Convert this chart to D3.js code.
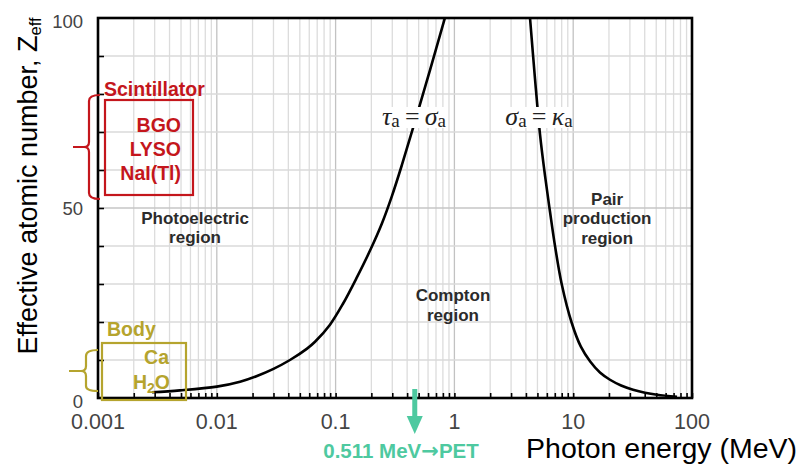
<!DOCTYPE html>
<html>
<head>
<meta charset="utf-8">
<script src="https://cdn.jsdelivr.net/npm/d3@7"></script>
<style>
  html, body { margin: 0; padding: 0; background: #fff; }
  svg { display: block; font-family: "Liberation Sans", Arial, Helvetica, sans-serif; }
</style>
</head>
<body>
<svg id="chart" width="799" height="465"></svg>
<script>
// ---------------- data ----------------
const xTickValues = [0.001, 0.01, 0.1, 1, 10, 100];
const xTickLabels = ["0.001", "0.01", "0.1", "1", "10", "100"];
const yTickValues = [0, 50, 100];
const yTickLabels = ["0", "50", "100"];
const yMinorTicks = [10, 20, 30, 40, 50, 60, 70, 80, 90];

// tau_a = sigma_a boundary (photoelectric / Compton)
const tauSigmaEnergy = [0.00285, 0.0049, 0.01, 0.0157, 0.0218, 0.0297, 0.0413, 0.0575, 0.0671, 0.0897, 0.1154, 0.1514, 0.1949, 0.2458, 0.2983, 0.3621, 0.4661, 0.6232, 0.8334];
const tauSigmaZ      = [1.5, 2.0, 3.0, 4.3, 5.8, 7.6, 10.0, 13.0, 14.8, 19.3, 24.8, 31.8, 38.8, 46.0, 53.2, 61.4, 72.8, 86.3, 100.1];

// sigma_a = kappa_a boundary (Compton / pair production)
const sigmaKappaEnergy = [4.26, 4.33, 4.77, 5.25, 5.79, 6.38, 7.03, 8.0, 9.71, 11.6, 13.9, 16.8, 20.4, 25.3, 31.9, 40.2, 50.8, 74.8];
const sigmaKappaZ      = [102.5, 100, 84, 69.5, 58.5, 49, 40, 30, 19.8, 13.5, 9.6, 6.7, 4.8, 3.3, 2.2, 1.4, 0.85, 0.3];

const regionLabels = [
  { lines: ["Photoelectric", "region"], e: 0.00656, z: 45.8 },
  { lines: ["Compton", "region"], e: 0.973, z: 25.5 },
  { lines: ["Pair", "production", "region"], e: 19.3, z: 50.8 }
];

const scintillators = ["BGO", "LYSO", "NaI(Tl)"];
const petEnergy = 0.511;

// ---------------- chart ----------------
const svg = d3.select("#chart");
const x = d3.scaleLog().domain([0.001, 100]).range([98, 692]);
const y = d3.scaleLinear().domain([0, 100]).range([398, 18]);

// grid
const minorE = [];
for (let p = -3; p <= 1; p++) {
  for (let k = 1; k <= 9; k++) minorE.push(k * Math.pow(10, p));
}
minorE.push(100);
const isDecade = d => xTickValues.some(t => Math.abs(t - d) / t < 1e-9);

const grid = svg.append("g");
grid.selectAll("line.v").data(minorE).join("line")
  .attr("x1", d => x(d)).attr("x2", d => x(d))
  .attr("y1", y(0)).attr("y2", y(100))
  .attr("stroke", d => isDecade(d) ? "#c2c2c2" : "#dcdcdc")
  .attr("stroke-width", 1.3);
grid.selectAll("line.h").data(yMinorTicks).join("line")
  .attr("x1", x(0.001)).attr("x2", x(100))
  .attr("y1", d => y(d)).attr("y2", d => y(d))
  .attr("stroke", d => d === 50 ? "#c6c6c6" : "#dadada")
  .attr("stroke-width", 1.3);

// axes with inward ticks
const xAxis = d3.axisBottom(x).tickValues(minorE).tickSize(-5).tickFormat("");
svg.append("g").attr("transform", `translate(0,${y(0)})`).call(xAxis)
  .call(g => g.select(".domain").remove())
  .call(g => g.selectAll(".tick line").attr("stroke", "#000").attr("stroke-width", 1.6));

const yAxis = d3.axisLeft(y).tickValues(yMinorTicks).tickSize(-6).tickFormat("");
svg.append("g").attr("transform", `translate(${x(0.001)},0)`).call(yAxis)
  .call(g => g.select(".domain").remove())
  .call(g => g.selectAll(".tick line").attr("stroke", "#000").attr("stroke-width", 1.6));

// tick labels
svg.append("g").selectAll("text").data(xTickValues).join("text")
  .attr("x", d => x(d)).attr("y", 429)
  .attr("text-anchor", "middle")
  .attr("font-size", 21.5).attr("fill", "#444")
  .text((d, i) => xTickLabels[i]);

svg.append("g").selectAll("text").data(yTickValues).join("text")
  .attr("x", 83)
  .attr("y", d => y(d) + (d === 0 ? 10 : d === 100 ? 10 : 7))
  .attr("text-anchor", "end")
  .attr("font-size", 18.5).attr("fill", "#444")
  .text((d, i) => yTickLabels[i]);

// curves
const line = d3.line().x(d => x(d[0])).y(d => y(d[1])).curve(d3.curveCatmullRom.alpha(0.5));
svg.append("clipPath").attr("id", "plotclip").append("rect")
  .attr("x", x(0.001)).attr("y", y(100)).attr("width", x(100) - x(0.001)).attr("height", y(0) - y(100));

svg.append("path")
  .datum(tauSigmaEnergy.map((e, i) => [e, tauSigmaZ[i]]))
  .attr("d", line).attr("fill", "none").attr("stroke", "#000").attr("stroke-width", 2.6)
  .attr("clip-path", "url(#plotclip)");
svg.append("path")
  .datum(sigmaKappaEnergy.map((e, i) => [e, sigmaKappaZ[i]]))
  .attr("d", line).attr("fill", "none").attr("stroke", "#000").attr("stroke-width", 2.6)
  .attr("clip-path", "url(#plotclip)");

// frame
svg.append("rect")
  .attr("x", x(0.001)).attr("y", y(100))
  .attr("width", x(100) - x(0.001)).attr("height", y(0) - y(100))
  .attr("fill", "none").attr("stroke", "#000").attr("stroke-width", 2.6);

// curve labels (with white background breaking the curve)
function curveLabel(cx, baseY, g1, g2) {
  const g = svg.append("g");
  g.append("rect").attr("x", cx - 31).attr("y", baseY - 18).attr("width", 62).attr("height", 21).attr("fill", "#fff");
  const t = g.append("text").attr("x", cx).attr("y", baseY).attr("text-anchor", "middle")
    .style("font-family", "'Liberation Serif', 'DejaVu Serif', 'Times New Roman', serif")
    .attr("font-size", 26).attr("fill", "#222");
  t.append("tspan").text(g1).attr("font-style", "italic");
  t.append("tspan").text("a").attr("font-size", 19).attr("dy", 2);
  t.append("tspan").text("\u2009=\u2009").attr("dy", -2);
  t.append("tspan").text(g2).attr("font-style", "italic");
  t.append("tspan").text("a").attr("font-size", 19).attr("dy", 2);
}
curveLabel(414, 125, "τ", "σ");
curveLabel(539, 125, "σ", "κ");

// region labels
regionLabels.forEach(r => {
  const t = svg.append("text").attr("text-anchor", "middle")
    .attr("font-size", 17).attr("font-weight", "bold").attr("fill", "#2b2b2b");
  r.lines.forEach((s, i) => {
    t.append("tspan").attr("x", x(r.e)).attr("y", y(r.z) + i * 19.5).text(s);
  });
});

// axis titles
svg.append("text").attr("x", 797).attr("y", 458).attr("text-anchor", "end")
  .attr("font-size", 28.5).attr("fill", "#000").text("Photon energy (MeV)");

const yt = svg.append("text").attr("transform", "translate(37,186) rotate(-90)")
  .attr("text-anchor", "middle").attr("font-size", 27).attr("fill", "#000");
yt.append("tspan").text("Effective atomic number, Z");
yt.append("tspan").text("eff").attr("font-size", 16.5).attr("dy", 4);

// Scintillator annotation
const red = "#c4161c";
svg.append("text").attr("x", 104).attr("y", 96).attr("font-size", 19.5).attr("font-weight", "bold")
  .attr("fill", red).text("Scintillator");
svg.append("rect").attr("x", 105).attr("y", 100).attr("width", 88).attr("height", 95)
  .attr("fill", "none").attr("stroke", red).attr("stroke-width", 2.2);
svg.append("path")
  .attr("d", "M100,95 Q89,95 89,101 L89,142 Q89,147 84,147 L73,147 M84,147 Q89,147 89,152 L89,193 Q89,199 100,199")
  .attr("fill", "none").attr("stroke", red).attr("stroke-width", 2.2);
svg.append("g").selectAll("text").data(scintillators).join("text")
  .attr("x", 181).attr("y", (d, i) => 132 + i * 24)
  .attr("text-anchor", "end").attr("font-size", 19.5).attr("font-weight", "bold")
  .attr("fill", red).text(d => d);

// Body annotation
const olive = "#b5a42e";
svg.append("text").attr("x", 107).attr("y", 336).attr("font-size", 19.5).attr("font-weight", "bold")
  .attr("fill", olive).text("Body");
svg.append("rect").attr("x", 102).attr("y", 343).attr("width", 84).attr("height", 57)
  .attr("fill", "none").attr("stroke", olive).attr("stroke-width", 2.2);
svg.append("path")
  .attr("d", "M98,350 Q86,350 86,356 L86,366 Q86,371 81,371 L69,371 M81,371 Q86,371 86,376 L86,386 Q86,391 98,391")
  .attr("fill", "none").attr("stroke", olive).attr("stroke-width", 2.2);
svg.append("text").attr("x", 169).attr("y", 364).attr("text-anchor", "end")
  .attr("font-size", 19.5).attr("font-weight", "bold").attr("fill", olive).text("Ca");
const h2o = svg.append("text").attr("x", 170).attr("y", 389).attr("text-anchor", "end")
  .attr("font-size", 19.5).attr("font-weight", "bold").attr("fill", olive);
h2o.append("tspan").text("H");
h2o.append("tspan").text("2").attr("font-size", 14).attr("dy", 4);
h2o.append("tspan").text("O").attr("dy", -4);

// PET arrow
const green = "#4ec9a0";
const ax = x(petEnergy) - 5;
svg.append("line").attr("x1", ax).attr("x2", ax).attr("y1", 389).attr("y2", 418)
  .attr("stroke", green).attr("stroke-width", 5);
svg.append("path").attr("d", `M${ax - 8},416 L${ax + 8},416 L${ax},434 Z`).attr("fill", green);
const pet = svg.append("text").attr("x", 401).attr("y", 458).attr("text-anchor", "middle")
  .attr("font-size", 20.5).attr("font-weight", "bold").attr("fill", green);
pet.append("tspan").text("0.511 MeV");
pet.append("tspan").text("→").style("font-family", "'DejaVu Sans', sans-serif").attr("font-size", 21);
pet.append("tspan").text("PET");
</script>
</body>
</html>
